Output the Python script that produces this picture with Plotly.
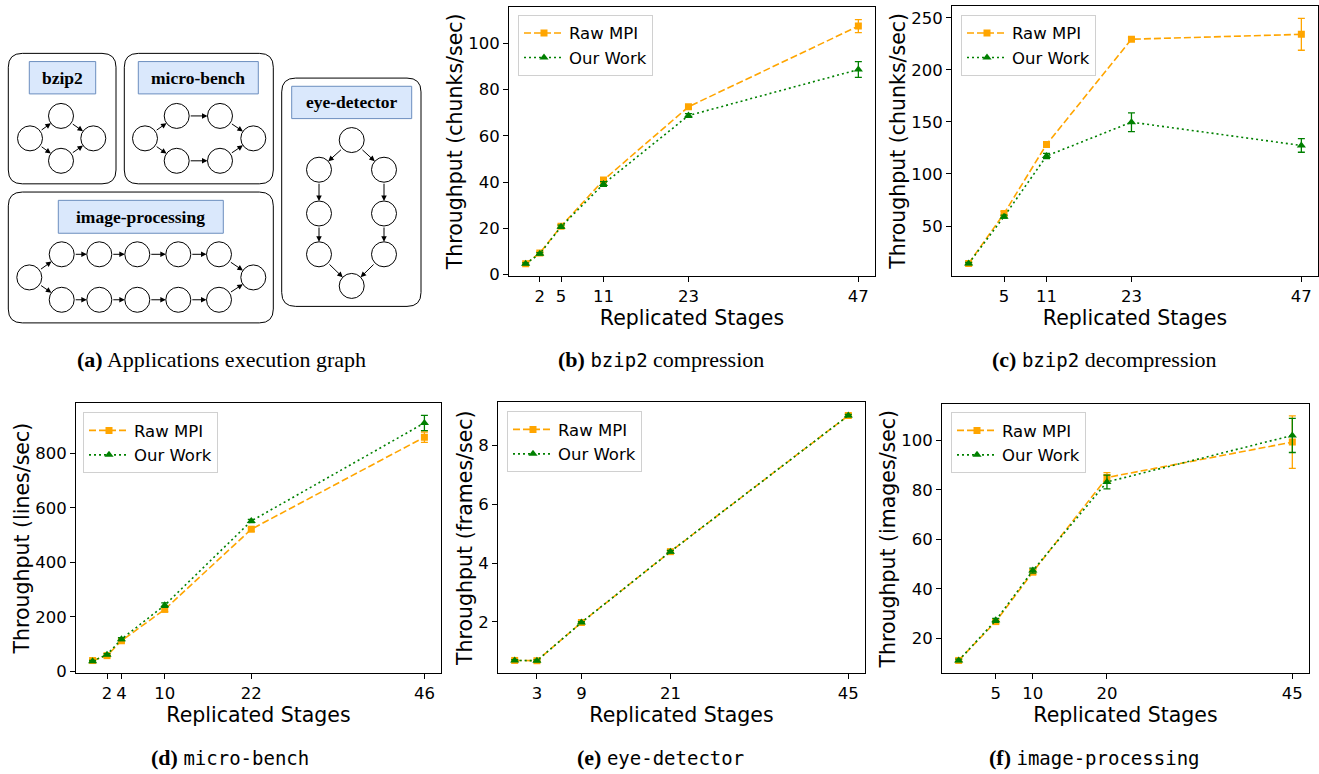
import plotly.graph_objects as go

W, H = 1319, 774

# ---------------- data ----------------
labels = ["Raw MPI", "Our Work"]

b_x = [0, 2, 5, 11, 23, 47]
b_raw = [4.7, 9.3, 20.9, 40.9, 72.6, 107.5]
b_raw_err = [0.5, 0.6, 0.8, 1.0, 0.8, 2.8]
b_our = [4.7, 9.0, 20.7, 39.2, 68.8, 88.7]
b_our_err = [0.4, 0.5, 0.7, 1.0, 0.8, 3.4]
b_xticks = [2, 5, 11, 23, 47]
b_yticks = [0, 20, 40, 60, 80, 100]

c_x = [0, 5, 11, 23, 47]
c_raw = [14, 62, 128.4, 229.5, 234.2]
c_raw_err = [1.0, 2.0, 2.0, 1.5, 15.3]
c_our = [14, 59, 117.3, 149.8, 127.4]
c_our_err = [1.0, 1.5, 2.5, 9.0, 6.5]
c_xticks = [5, 11, 23, 47]
c_yticks = [50, 100, 150, 200, 250]

d_x = [0, 2, 4, 10, 22, 46]
d_raw = [40, 58, 112.6, 227.6, 521.8, 859.6]
d_raw_err = [3, 4, 5, 8, 8, 19]
d_our = [37.5, 61.7, 118.6, 243.3, 552, 911.6]
d_our_err = [3, 4, 5, 8, 6, 28]
d_xticks = [2, 4, 10, 22, 46]
d_yticks = [0, 200, 400, 600, 800]

e_x = [0, 3, 9, 21, 45]
e_raw = [0.69, 0.68, 1.98, 4.39, 9.02]
e_raw_err = [0.03, 0.03, 0.03, 0.04, 0.04]
e_our = [0.69, 0.68, 1.98, 4.39, 9.02]
e_our_err = [0.03, 0.03, 0.03, 0.04, 0.04]
e_xticks = [3, 9, 21, 45]
e_yticks = [2, 4, 6, 8]

f_x = [0, 5, 10, 20, 45]
f_raw = [11.1, 26.8, 46.8, 85.0, 99.3]
f_raw_err = [0.5, 0.8, 1.0, 2.0, 10.6]
f_our = [11.1, 27.3, 47.4, 83.2, 102.0]
f_our_err = [0.5, 0.8, 1.0, 2.8, 6.9]
f_xticks = [5, 10, 20, 45]
f_yticks = [20, 40, 60, 80, 100]

y_titles = ["Throughput (chunks/sec)", "Throughput (chunks/sec)", "Throughput (lines/sec)",
            "Throughput (frames/sec)", "Throughput (images/sec)"]
x_title = "Replicated Stages"

# diagram (panel a) data, in diagram units
box_names = ["bzip2", "micro-bench", "image-processing", "eye-detector"]
box_x0 = [8.3, 124.3, 8.3, 281.7]
box_x1 = [116.0, 273.3, 273.3, 421.0]
box_y0 = [54.0, 54.0, 194.3, 79.0]
box_y1 = [186.0, 186.0, 326.7, 310.0]
lab_x0 = [29.3, 138.3, 58.3, 291.7]
lab_x1 = [95.7, 258.3, 223.3, 411.7]
lab_y0 = [62.3, 62.3, 202.7, 87.3]
lab_y1 = [95.0, 95.0, 236.0, 120.0]

node_x = {
    "bzip2": [30.0, 61.0, 61.0, 93.3],
    "micro-bench": [145.0, 176.7, 176.7, 220.0, 220.0, 253.3],
    "image-processing": [29.3, 61.7, 99.3, 137.3, 178.3, 219.0, 61.7, 99.3, 137.3, 178.3, 219.0, 253.3],
    "eye-detector": [351.7, 319.0, 384.0, 319.0, 384.0, 319.0, 384.0, 351.7],
}
node_y = {
    "bzip2": [140.0, 117.3, 162.7, 140.0],
    "micro-bench": [140.0, 117.3, 162.7, 117.3, 162.7, 140.0],
    "image-processing": [280.7, 257.3, 257.3, 257.3, 257.3, 257.3, 303.3, 303.3, 303.3, 303.3, 303.3, 280.7],
    "eye-detector": [141.7, 171.7, 171.7, 216.0, 216.0, 257.3, 257.3, 289.3],
}
edges = {
    "bzip2": [(0, 1), (0, 2), (1, 3), (2, 3)],
    "micro-bench": [(0, 1), (0, 2), (1, 3), (2, 4), (3, 5), (4, 5)],
    "image-processing": [(0, 1), (0, 6), (1, 2), (2, 3), (3, 4), (4, 5), (6, 7), (7, 8), (8, 9),
                         (9, 10), (5, 11), (10, 11)],
    "eye-detector": [(0, 1), (0, 2), (1, 3), (3, 5), (2, 4), (4, 6), (5, 7), (6, 7)],
}

captions = [
    ("a", None, "Applications execution graph"),
    ("b", "bzip2", "compression"),
    ("c", "bzip2", "decompression"),
    ("d", "micro-bench", ""),
    ("e", "eye-detector", ""),
    ("f", "image-processing", ""),
]

# ---------------- layout helpers ----------------
def xdom(p0, p1):
    return [p0 / W, p1 / W]

def ydom(top, bottom):
    return [1 - bottom / H, 1 - top / H]

panels = [
    dict(x=b_x, raw=b_raw, re=b_raw_err, our=b_our, oe=b_our_err, xt=b_xticks, yt=b_yticks,
         xr=[-2.35, 49.35], yr=[-0.5, 115.8], xd=(509, 875), yd=(7, 279), leg=(518, 15)),
    dict(x=c_x, raw=c_raw, re=c_raw_err, our=c_our, oe=c_our_err, xt=c_xticks, yt=c_yticks,
         xr=[-2.35, 49.35], yr=[2.2, 261.5], xd=(952, 1318), yd=(6, 279), leg=(961, 15)),
    dict(x=d_x, raw=d_raw, re=d_raw_err, our=d_our, oe=d_our_err, xt=d_xticks, yt=d_yticks,
         xr=[-2.3, 48.3], yr=[-6, 984], xd=(76, 441), yd=(408, 681), leg=(83, 417)),
    dict(x=e_x, raw=e_raw, re=e_raw_err, our=e_our, oe=e_our_err, xt=e_xticks, yt=e_yticks,
         xr=[-2.25, 47.25], yr=[0.26, 9.47], xd=(498, 865), yd=(407, 681), leg=(507, 416)),
    dict(x=f_x, raw=f_raw, re=f_raw_err, our=f_our, oe=f_our_err, xt=f_xticks, yt=f_yticks,
         xr=[-2.25, 47.25], yr=[6, 114.6], xd=(942, 1309), yd=(409, 681), leg=(951, 417)),
]

ORANGE = "#FFA500"
GREEN = "#008000"
FONT = "DejaVu Sans"

fig = go.Figure()
layout = dict(width=W, height=H, margin=dict(l=0, r=0, t=0, b=0),
              paper_bgcolor="white", plot_bgcolor="white", showlegend=True,
              font=dict(family=FONT, size=16, color="black"))

for i, p in enumerate(panels):
    n = i + 1
    xa = "x" if n == 1 else f"x{n}"
    ya = "y" if n == 1 else f"y{n}"
    lg = "legend" if n == 1 else f"legend{n}"
    fig.add_trace(go.Scatter(
        x=p["x"], y=p["raw"], name=labels[0], xaxis=xa, yaxis=ya, legend=lg,
        legendgroup=f"raw{n}", mode="lines+markers",
        line=dict(color=ORANGE, width=1.6, dash="7px,3px"),
        marker=dict(symbol="square", size=7, color=ORANGE),
        error_y=dict(type="data", array=p["re"], color=ORANGE, thickness=1.3, width=3.5),
    ))
    fig.add_trace(go.Scatter(
        x=p["x"], y=p["our"], name=labels[1], xaxis=xa, yaxis=ya, legend=lg,
        legendgroup=f"our{n}", mode="lines+markers",
        line=dict(color=GREEN, width=1.6, dash="2px,3px"),
        marker=dict(symbol="triangle-up", size=8, color=GREEN),
        error_y=dict(type="data", array=p["oe"], color=GREEN, thickness=1.3, width=3.5),
    ))
    axcommon = dict(showline=True, linecolor="black", linewidth=1, mirror=True,
                    ticks="outside", ticklen=5, tickwidth=1, tickcolor="black",
                    showgrid=False, zeroline=False, tickfont=dict(size=16.5, family=FONT))
    xkey = "xaxis" if n == 1 else f"xaxis{n}"
    ykey = "yaxis" if n == 1 else f"yaxis{n}"
    layout[xkey] = dict(axcommon, domain=xdom(*p["xd"]), range=p["xr"], anchor=ya,
                        tickmode="array", tickvals=p["xt"],
                        title=dict(text=x_title, font=dict(size=20.5, family=FONT), standoff=3))
    layout[ykey] = dict(axcommon, domain=ydom(*p["yd"]), range=p["yr"], anchor=xa,
                        tickmode="array", tickvals=p["yt"],
                        title=dict(text=y_titles[i], font=dict(size=20.5, family=FONT), standoff=0))
    layout[lg] = dict(x=p["leg"][0] / W, y=1 - p["leg"][1] / H, xanchor="left", yanchor="top",
                      bgcolor="rgba(255,255,255,0.8)", bordercolor="#d0d0d0", borderwidth=1,
                      font=dict(size=16.5, family=FONT), tracegroupgap=0, itemwidth=40)

# ---------------- diagram (panel a) ----------------
DX, DY = "x6", "y6"
layout["xaxis6"] = dict(domain=xdom(0, 440), range=[0, 440], visible=False, anchor="y6")
layout["yaxis6"] = dict(domain=ydom(40, 340), range=[340, 40], visible=False, anchor="x6")

def rrect(x0, y0, x1, y1, r):
    return (f"M{x0+r},{y0} L{x1-r},{y0} Q{x1},{y0} {x1},{y0+r} L{x1},{y1-r} "
            f"Q{x1},{y1} {x1-r},{y1} L{x0+r},{y1} Q{x0},{y1} {x0},{y1-r} "
            f"L{x0},{y0+r} Q{x0},{y0} {x0+r},{y0} Z")

shapes = []
annotations = []
for k, name in enumerate(box_names):
    shapes.append(dict(type="path", xref=DX, yref=DY,
                       path=rrect(box_x0[k], box_y0[k], box_x1[k], box_y1[k], 14),
                       line=dict(color="black", width=1), fillcolor="rgba(0,0,0,0)", layer="below"))
    shapes.append(dict(type="rect", xref=DX, yref=DY, x0=lab_x0[k], x1=lab_x1[k],
                       y0=lab_y0[k], y1=lab_y1[k], line=dict(color="#6c8ebf", width=1),
                       fillcolor="#dae8fc", layer="below"))
    annotations.append(dict(xref=DX, yref=DY, x=(lab_x0[k] + lab_x1[k]) / 2,
                            y=(lab_y0[k] + lab_y1[k]) / 2, text=f"<b>{name}</b>",
                            showarrow=False, font=dict(family="Liberation Serif", size=17.5, color="black")))
    nx, ny = node_x[name], node_y[name]
    for (s, t) in edges[name]:
        annotations.append(dict(xref=DX, yref=DY, axref=DX, ayref=DY,
                                x=nx[t], y=ny[t], ax=nx[s], ay=ny[s], text="",
                                showarrow=True, arrowhead=2, arrowsize=1.1, arrowwidth=1,
                                arrowcolor="black", standoff=12.5, startstandoff=12.5))
    fig.add_trace(go.Scatter(x=nx, y=ny, xaxis=DX, yaxis=DY, mode="markers", showlegend=False,
                             hoverinfo="skip",
                             marker=dict(size=25, color="white", line=dict(color="black", width=1))))

# ---------------- captions ----------------
cap_pos = [(221, 364), (661, 364), (1104, 364), (230, 766), (660, 766), (1094, 766)]
for (letter, mono, rest), (cx, cy) in zip(captions, cap_pos):
    txt = f"<b>({letter})</b> "
    if mono:
        txt += f"<span style='font-family:DejaVu Sans Mono;font-size:19px'>{mono}</span>"
        if rest:
            txt += " " + rest
    else:
        txt += rest
    annotations.append(dict(xref="paper", yref="paper", x=cx / W, y=1 - cy / H, text=txt,
                            showarrow=False, xanchor="center", yanchor="middle",
                            font=dict(family="Liberation Serif", size=22, color="black")))

layout["shapes"] = shapes
layout["annotations"] = annotations
fig.update_layout(**layout)
fig.write_html("out.html", config={"displayModeBar": False},
               post_script="document.body.style.margin='0';document.body.style.padding='0';"
                           "document.body.style.overflow='hidden';")
